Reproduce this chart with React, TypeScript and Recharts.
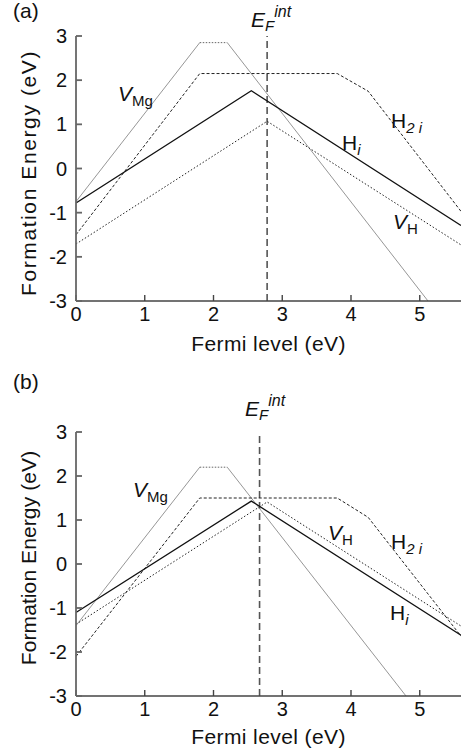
import React from "react";
import { LineChart, Line, XAxis, YAxis, ReferenceLine } from "recharts";

type Pt = { x: number; y: number };

const X_TICKS = [0, 1, 2, 3, 4, 5];
const Y_TICKS = [-3, -2, -1, 0, 1, 2, 3];

// panel (a)
const EF_A = 2.78;
const HI_A: Pt[] = [{ x: 0, y: -0.78 }, { x: 2.55, y: 1.76 }, { x: 5.6, y: -1.29 }];
const H2I_A: Pt[] = [{ x: 0, y: -1.5 }, { x: 1.8, y: 2.15 }, { x: 3.8, y: 2.15 }, { x: 4.25, y: 1.75 }, { x: 5.6, y: -0.97 }];
const VH_A: Pt[] = [{ x: 0, y: -1.71 }, { x: 2.78, y: 1.07 }, { x: 5.6, y: -1.73 }];
const VMG_UP_A: Pt[] = [{ x: 0, y: -0.75 }, { x: 1.8, y: 2.85 }];
const VMG_FLAT_A: Pt[] = [{ x: 1.8, y: 2.85 }, { x: 2.2, y: 2.85 }];
const VMG_DOWN_A: Pt[] = [{ x: 2.2, y: 2.85 }, { x: 5.12, y: -3 }];

// panel (b)
const EF_B = 2.67;
const HI_B: Pt[] = [{ x: 0, y: -1.1 }, { x: 2.55, y: 1.43 }, { x: 5.6, y: -1.62 }];
const H2I_B: Pt[] = [{ x: 0, y: -2.1 }, { x: 1.8, y: 1.5 }, { x: 3.8, y: 1.5 }, { x: 4.25, y: 1.06 }, { x: 5.6, y: -1.64 }];
const VH_B: Pt[] = [{ x: 0, y: -1.37 }, { x: 2.78, y: 1.41 }, { x: 5.6, y: -1.41 }];
const VMG_UP_B: Pt[] = [{ x: 0, y: -1.4 }, { x: 1.8, y: 2.2 }];
const VMG_FLAT_B: Pt[] = [{ x: 1.8, y: 2.2 }, { x: 2.2, y: 2.2 }];
const VMG_DOWN_B: Pt[] = [{ x: 2.2, y: 2.2 }, { x: 4.8, y: -3 }];

const FONT = '"Liberation Sans", Arial, Helvetica, sans-serif';
const AXIS = "#444";
const tickStyle = { fill: "#111", fontSize: 20, fontFamily: FONT };

type PanelProps = {
  ef: number;
  hi: Pt[];
  h2i: Pt[];
  vh: Pt[];
  vmgUp: Pt[];
  vmgFlat: Pt[];
  vmgDown: Pt[];
  height: number;
  top: number;
  bottom: number;
};

function Panel(p: PanelProps) {
  return (
    <LineChart width={463} height={p.height} margin={{ top: p.top, right: 2, bottom: p.bottom, left: 0 }}>
      <XAxis
        xAxisId="b"
        dataKey="x"
        type="number"
        domain={[0, 5.6]}
        ticks={X_TICKS}
        allowDataOverflow
        height={40}
        tickSize={-6}
        tickMargin={12}
        tick={tickStyle}
        stroke={AXIS}
        strokeWidth={1.4}
      />
      <XAxis
        xAxisId="t"
        orientation="top"
        dataKey="x"
        type="number"
        domain={[0, 5.6]}
        ticks={X_TICKS}
        allowDataOverflow
        height={0}
        tickSize={-6}
        tick={false}
        stroke={AXIS}
        strokeWidth={1.2}
      />
      <YAxis
        yAxisId="l"
        type="number"
        domain={[-3, 3]}
        ticks={Y_TICKS}
        allowDataOverflow
        width={76}
        tickSize={-6}
        tickMargin={15}
        tick={tickStyle}
        stroke="#666"
        strokeWidth={1.8}
      />
      <YAxis
        yAxisId="r"
        orientation="right"
        type="number"
        domain={[-3, 3]}
        ticks={Y_TICKS}
        allowDataOverflow
        width={0}
        tickSize={-6}
        tick={false}
        stroke={AXIS}
        strokeWidth={1.2}
      />
      <ReferenceLine xAxisId="b" yAxisId="l" x={p.ef} stroke="#555" strokeWidth={1.6} strokeDasharray="7 4" />
      <Line xAxisId="b" yAxisId="l" data={p.vmgUp} dataKey="y" type="linear" dot={false} stroke="#8a8a8a" strokeWidth={0.9} isAnimationActive={false} />
      <Line xAxisId="b" yAxisId="l" data={p.vmgFlat} dataKey="y" type="linear" dot={false} stroke="#666" strokeWidth={1} strokeDasharray="1.5 1.5" isAnimationActive={false} />
      <Line xAxisId="b" yAxisId="l" data={p.vmgDown} dataKey="y" type="linear" dot={false} stroke="#8a8a8a" strokeWidth={0.9} isAnimationActive={false} />
      <Line xAxisId="b" yAxisId="l" data={p.vh} dataKey="y" type="linear" dot={false} stroke="#222" strokeWidth={1} strokeDasharray="1.5 2" isAnimationActive={false} />
      <Line xAxisId="b" yAxisId="l" data={p.h2i} dataKey="y" type="linear" dot={false} stroke="#222" strokeWidth={1} strokeDasharray="3 2" isAnimationActive={false} />
      <Line xAxisId="b" yAxisId="l" data={p.hi} dataKey="y" type="linear" dot={false} stroke="#111" strokeWidth={1.3} isAnimationActive={false} />
    </LineChart>
  );
}

const txt = (left: number, top: number, size = 21): React.CSSProperties => ({
  position: "absolute",
  left,
  top,
  fontSize: size,
  fontFamily: FONT,
  lineHeight: 1,
  color: "#111",
  whiteSpace: "nowrap",
});

const sub: React.CSSProperties = { fontSize: 15, position: "relative", top: 5 };
const sup: React.CSSProperties = { fontSize: 16, position: "relative", top: -10, fontStyle: "italic" };

function Labels({ y0, ef, vmg, vh, h2i, hi, yCenter, ySpacing, panel }: any) {
  return (
    <>
      <div style={txt(13, y0 + panel)}>{panel === 0 ? "(a)" : "(b)"}</div>
      <div style={txt(ef[0], y0 + ef[1])}>
        <i>E</i>
        <i style={{ ...sub, top: 4 }}>F</i>
        <span style={sup}>int</span>
      </div>
      <div style={txt(vmg[0], y0 + vmg[1])}>
        <i>V</i>
        <span style={sub}>Mg</span>
      </div>
      <div style={txt(vh[0], y0 + vh[1])}>
        <i>V</i>
        <span style={sub}>H</span>
      </div>
      <div style={txt(h2i[0], y0 + h2i[1])}>
        H<i style={sub}>2 i</i>
      </div>
      <div style={txt(hi[0], y0 + hi[1])}>
        H<i style={sub}>i</i>
      </div>
      <div
        style={{
          ...txt(0, y0 + yCenter),
          left: 28,
          letterSpacing: ySpacing,
          transform: "translate(-50%, -50%) rotate(-90deg)",
        }}
      >
        Formation Energy (eV)
      </div>
    </>
  );
}

export default function App() {
  return (
    <div style={{ position: "absolute", left: 0, top: 0, width: 463, height: 751, background: "#fff", fontFamily: FONT }}>
      <div style={{ position: "absolute", left: 0, top: 0 }}>
        <Panel ef={EF_A} hi={HI_A} h2i={H2I_A} vh={VH_A} vmgUp={VMG_UP_A} vmgFlat={VMG_FLAT_A} vmgDown={VMG_DOWN_A} height={370} top={36} bottom={29} />
      </div>
      <div style={{ position: "absolute", left: 0, top: 370 }}>
        <Panel ef={EF_B} hi={HI_B} h2i={H2I_B} vh={VH_B} vmgUp={VMG_UP_B} vmgFlat={VMG_FLAT_B} vmgDown={VMG_DOWN_B} height={381} top={62} bottom={15} />
      </div>
      <Labels panel={0} y0={0} ef={[251, 9]} vmg={[118, 83]} vh={[393, 211]} h2i={[391, 110]} hi={[342, 132]} yCenter={173} ySpacing={1.6} />
      <Labels panel={1} y0={370} ef={[245, 28]} vmg={[133, 109]} vh={[328, 152]} h2i={[391, 161]} hi={[390, 232]} yCenter={188} ySpacing={0.1} />
      <div style={{ ...txt(0, 333), width: 537, textAlign: "center", letterSpacing: 0.4 }}>Fermi level (eV)</div>
      <div style={{ ...txt(0, 726), width: 537, textAlign: "center", letterSpacing: 0.4 }}>Fermi level (eV)</div>
    </div>
  );
}
